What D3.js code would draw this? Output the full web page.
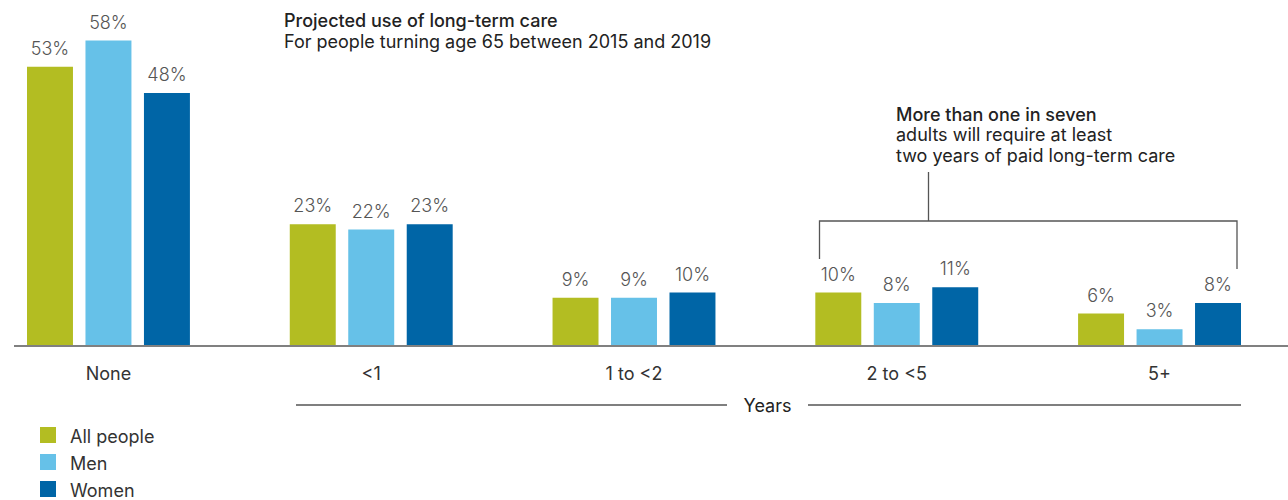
<!DOCTYPE html>
<html>
<head>
<meta charset="utf-8">
<script src="https://cdn.jsdelivr.net/npm/d3@7/dist/d3.min.js"></script>
<style>
  html, body { margin: 0; padding: 0; background: #fff; }
  svg { display: block; }
  text { font-family: Inter, "Liberation Sans", Arial, sans-serif; }
</style>
</head>
<body>
<svg id="chart" width="1288" height="500"></svg>
<script>
const categories = ["None", "<1", "1 to <2", "2 to <5", "5+"];
const seriesNames = ["All people", "Men", "Women"];
const allPeople = [53, 23, 9, 10, 6];
const men = [58, 22, 9, 8, 3];
const women = [48, 23, 10, 11, 8];
const colors = ["#B3BD22", "#66C1E8", "#0065A6"];

const seriesValues = [allPeople, men, women];
const data = categories.map((c, i) => ({
  category: c,
  values: seriesNames.map((s, j) => ({ series: s, value: seriesValues[j][i] }))
}));

const FONT = "Inter, 'Liberation Sans', Arial, sans-serif";
const FS = 18;

const svg = d3.select("#chart");
const baseline = 345;

const x0 = d3.scaleBand().domain(categories).range([27, 1241]).paddingInner(0.38).paddingOuter(0);
const x1 = d3.scaleBand().domain(seriesNames).range([0, x0.bandwidth()]).paddingInner(0.214).paddingOuter(0);
const y = d3.scaleLinear().domain([0, 58]).range([baseline, baseline - 58 * 5.25]);
const color = d3.scaleOrdinal().domain(seriesNames).range(colors);

// Title
svg.append("text").attr("x", 284).attr("y", 27)
  .attr("font-size", FS).attr("font-weight", 500).attr("fill", "#222")
  .text("Projected use of long-term care");
svg.append("text").attr("x", 284).attr("y", 48)
  .attr("font-size", FS).attr("fill", "#222")
  .text("For people turning age 65 between 2015 and 2019");

// Bars
const groups = svg.append("g").selectAll("g").data(data).join("g")
  .attr("transform", d => `translate(${x0(d.category)},0)`);

groups.selectAll("rect").data(d => d.values).join("rect")
  .attr("x", d => x1(d.series))
  .attr("y", d => y(d.value))
  .attr("width", x1.bandwidth())
  .attr("height", d => baseline - y(d.value))
  .attr("fill", d => color(d.series));

groups.selectAll("text.val").data(d => d.values).join("text")
  .attr("class", "val")
  .attr("x", d => x1(d.series) + x1.bandwidth() / 2)
  .attr("y", d => y(d.value) - 12)
  .attr("text-anchor", "middle")
  .attr("font-size", FS).attr("font-weight", 300).attr("fill", "#555")
  .text(d => d.value + "%");

// Baseline axis line
svg.append("line").attr("x1", 14).attr("x2", 1288)
  .attr("y1", baseline + 1).attr("y2", baseline + 1)
  .attr("stroke", "#808080").attr("stroke-width", 2);

// Category labels via axis
const xAxis = d3.axisBottom(x0).tickSize(0).tickPadding(0);
const axisG = svg.append("g").attr("transform", `translate(0,${baseline})`).call(xAxis);
axisG.select(".domain").remove();
axisG.selectAll("text")
  .attr("font-family", FONT)
  .attr("font-size", FS).attr("fill", "#333")
  .attr("dy", null).attr("y", 35);

// Years line
const yearsY = 405;
svg.append("line").attr("x1", 296).attr("x2", 727).attr("y1", yearsY).attr("y2", yearsY)
  .attr("stroke", "#555").attr("stroke-width", 1.5);
svg.append("line").attr("x1", 808).attr("x2", 1241).attr("y1", yearsY).attr("y2", yearsY)
  .attr("stroke", "#555").attr("stroke-width", 1.5);
svg.append("text").attr("x", 767.5).attr("y", 412).attr("text-anchor", "middle")
  .attr("font-size", FS).attr("fill", "#222").text("Years");

// Annotation
const ann = svg.append("g");
ann.append("text").attr("x", 896).attr("y", 121).attr("font-size", FS).attr("font-weight", 500).attr("fill", "#222")
  .text("More than one in seven");
ann.append("text").attr("x", 896).attr("y", 141).attr("font-size", FS).attr("fill", "#222")
  .text("adults will require at least");
ann.append("text").attr("x", 896).attr("y", 162).attr("font-size", FS).attr("fill", "#222")
  .text("two years of paid long-term care");
ann.append("path")
  .attr("d", "M928.5,172 V221 M819.5,259 V221 H1237 V269")
  .attr("fill", "none").attr("stroke", "#555").attr("stroke-width", 1.3);

// Legend
const legend = svg.append("g").selectAll("g").data(seriesNames).join("g")
  .attr("transform", (d, i) => `translate(40,${427 + i * 27})`);
legend.append("rect").attr("width", 16).attr("height", 16).attr("fill", d => color(d));
legend.append("text").attr("x", 30).attr("y", 16).attr("font-size", FS).attr("fill", "#333").text(d => d);
</script>
</body>
</html>
